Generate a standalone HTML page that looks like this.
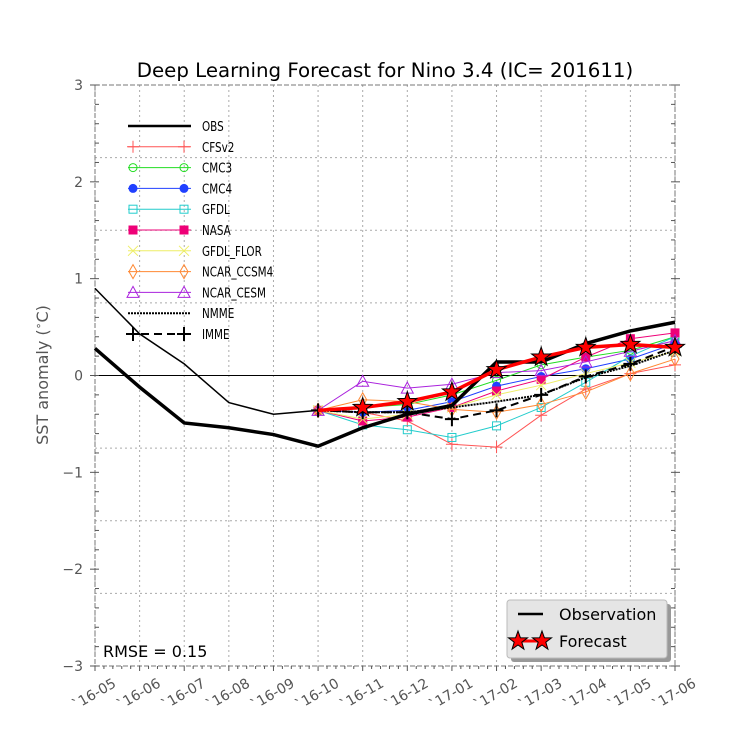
<!DOCTYPE html>
<html><head><meta charset="utf-8"><style>body{margin:0;background:#fff}svg{display:block;font-family:"DejaVu Sans","Liberation Sans",sans-serif}</style></head>
<body>
<svg id="chart" width="750" height="750" viewBox="0 0 750 750" xmlns="http://www.w3.org/2000/svg">
<rect width="750" height="750" fill="#fff"/>
<g id="grid"></g>
<g id="axes"></g>
<g id="series"></g>
<g id="legend"></g>
<text x="385" y="77" font-size="19.8" text-anchor="middle" fill="#000">Deep Learning Forecast for Nino 3.4 (IC= 201611)</text>
<text transform="translate(48,375) rotate(-90)" font-size="16" text-anchor="middle" fill="#555">SST anomaly (<tspan font-size="11" dy="-6">∘</tspan><tspan dy="6">C)</tspan></text>
<text x="103" y="657" font-size="16" fill="#000">RMSE = 0.15</text>
<g>
<rect x="511" y="604" width="160" height="58" rx="3" fill="#999"/>
<rect x="507" y="600" width="160" height="58" rx="3" fill="#e5e5e5" stroke="#bbb"/>
<line x1="518" y1="614" x2="543" y2="614" stroke="#000" stroke-width="2.5"/>
<text x="559" y="620" font-size="16">Observation</text>
<line x1="518" y1="641" x2="542" y2="641" stroke="red" stroke-width="3"/>
<text x="559" y="647" font-size="16">Forecast</text>
</g>
<g id="legstars"></g>
</svg>
<script>
const months=["`16-05","`16-06","`16-07","`16-08","`16-09","`16-10","`16-11","`16-12","`17-01","`17-02","`17-03","`17-04","`17-05","`17-06"];
const yTicks=[3,2,1,0,-1,-2,-3];
const obs=[0.28,-0.12,-0.49,-0.54,-0.61,-0.73,-0.54,-0.40,-0.31,0.14,0.14,0.33,0.46,0.55];
const history=[0.90,0.43,0.12,-0.28,-0.40,-0.36];
const forecast=[null,null,null,null,null,-0.36,-0.33,-0.27,-0.17,0.06,0.19,0.29,0.32,0.29];
const cfsv2=[-0.36,-0.38,-0.47,-0.71,-0.74,-0.41,-0.14,0.02,0.11];
const cmc3=[-0.36,-0.33,-0.30,-0.20,-0.05,0.11,0.19,0.26,0.40];
const cmc4=[-0.36,-0.38,-0.36,-0.27,-0.11,-0.01,0.07,0.17,0.33];
const gfdl=[-0.36,-0.51,-0.56,-0.64,-0.52,-0.33,-0.07,0.20,0.40];
const nasa=[-0.36,-0.47,-0.43,-0.33,-0.16,-0.04,0.19,0.38,0.44];
const flor=[-0.36,-0.45,-0.40,-0.33,-0.20,-0.10,0.02,0.13,0.25];
const ccsm4=[-0.36,-0.25,-0.27,-0.35,-0.38,-0.30,-0.17,0.02,0.17];
const cesm=[-0.36,-0.06,-0.13,-0.09,0.03,0.05,0.14,0.25,0.36];
const nmme=[-0.36,-0.38,-0.38,-0.33,-0.27,-0.20,-0.02,0.10,0.26];
const imme=[-0.36,-0.38,-0.38,-0.45,-0.36,-0.20,-0.01,0.12,0.30];
const L=95,R=675,T=85,B=666,NS="http://www.w3.org/2000/svg";
const X=i=>L+(R-L)*i/(months.length-1);
const Y=v=>T+(3-v)*(B-T)/6;
function mk(p,tag,a){const e=document.createElementNS(NS,tag);for(const k in a)e.setAttribute(k,a[k]);p.appendChild(e);return e;}
const g=document.getElementById('grid'),ax=document.getElementById('axes'),s=document.getElementById('series'),lg=document.getElementById('legend');
months.forEach((m,i)=>{const l=mk(g,'line',{x1:X(i),x2:X(i),y1:T,y2:B,stroke:'#aaa','stroke-dasharray':'2,3'});
});
for(let v=-2.25;v<=2.26;v+=0.75){if(Math.abs(v)<0.01)continue;const l=mk(g,'line',{x1:L,x2:R,y1:Y(v),y2:Y(v),stroke:'#aaa','stroke-dasharray':'2,3'});
}
mk(g,'line',{x1:L,x2:R,y1:Y(0),y2:Y(0),stroke:'#000','stroke-width':1});
mk(ax,'rect',{x:L,y:T,width:R-L,height:B-T,fill:'none',stroke:'#777','stroke-dasharray':'5,2'});
yTicks.forEach(v=>{mk(ax,'line',{x1:L-5,x2:L,y1:Y(v),y2:Y(v),stroke:'#555'});mk(ax,'line',{x1:R,x2:R+5,y1:Y(v),y2:Y(v),stroke:'#555'});
const t=mk(ax,'text',{x:L-12,y:Y(v)+5,'font-size':14,'text-anchor':'end',fill:'#555'});t.textContent=v<0?'\u2212'+(-v):v;
});
for(let v=-3;v<=3.001;v+=0.2){mk(ax,'line',{x1:L,x2:L+4,y1:Y(v),y2:Y(v),stroke:'#555'});mk(ax,'line',{x1:R-4,x2:R,y1:Y(v),y2:Y(v),stroke:'#555'});}
months.forEach((m,i)=>{mk(ax,'line',{x1:X(i),x2:X(i),y1:B,y2:B+5,stroke:'#555'});
if(i<months.length-1)for(let k=1;k<5;k++){const x=X(i)+(X(i+1)-X(i))*k/5;mk(ax,'line',{x1:x,x2:x,y1:B,y2:B+3,stroke:'#555'});}
const t=mk(ax,'text',{transform:`translate(${X(i)+22},${B+20}) rotate(-30)`,'font-size':14,'text-anchor':'end',fill:'#555'});t.textContent=m;
});
function marker(p,type,x,y,c,sz){sz=sz||5;
 if(type==='plus')return mk(p,'path',{d:`M${x-6},${y}H${x+6}M${x},${y-6}V${y+6}`,stroke:c,fill:'none'});
 if(type==='circle')return mk(p,'circle',{cx:x,cy:y,r:sz,fill:'none',stroke:c});
 if(type==='dot')return mk(p,'circle',{cx:x,cy:y,r:sz,fill:c,stroke:c});
 if(type==='square')return mk(p,'rect',{x:x-sz,y:y-sz,width:2*sz,height:2*sz,fill:'none',stroke:c});
 if(type==='fsquare')return mk(p,'rect',{x:x-sz,y:y-sz,width:2*sz,height:2*sz,fill:c,stroke:c});
 if(type==='x')return mk(p,'path',{d:`M${x-5},${y-5}L${x+5},${y+5}M${x-5},${y+5}L${x+5},${y-5}`,stroke:c});
 if(type==='diamond')return mk(p,'path',{d:`M${x},${y-7}L${x+4},${y}L${x},${y+7}L${x-4},${y}Z`,fill:'none',stroke:c});
 if(type==='tri')return mk(p,'path',{d:`M${x},${y-6}L${x+6},${y+5}L${x-6},${y+5}Z`,fill:'none',stroke:c});
 if(type==='bplus')return mk(p,'path',{d:`M${x-7},${y}H${x+7}M${x},${y-7}V${y+7}`,stroke:c,'stroke-width':2});
 if(type==='star'){let d='';for(let k=0;k<10;k++){const r=k%2?4:10,a=-Math.PI/2+k*Math.PI/5;d+=(k?'L':'M')+(x+r*Math.cos(a)).toFixed(1)+','+(y+r*Math.sin(a)).toFixed(1);}
  return mk(p,'path',{d:d+'Z',fill:'red',stroke:'#000','stroke-width':1});}
}
const models=[
 ['cfsv2',cfsv2,'#f55','plus',1,null],['cmc3',cmc3,'#2d2','circle',1,null],['cmc4',cmc4,'#2040ff','dot',1,null],
 ['gfdl',gfdl,'#2cc','square',1,null],['nasa',nasa,'#e07','fsquare',1,null],['gfdl-flor',flor,'#ee6','x',1,null],
 ['ncar-ccsm4',ccsm4,'#f83','diamond',1,null],['ncar-cesm',cesm,'#a2d','tri',1,null],
 ['nmme',nmme,'#000',null,2,'2,1'],['imme',imme,'#000','bplus',2,'8,5']];
const start=5;
models.forEach(([n,d,c,mt,w,da])=>{const grp=mk(s,'g',{});
 const pts=d.map((v,i)=>X(start+i)+','+Y(v)).join(' ');const a={points:pts,fill:'none',stroke:c,'stroke-width':w};if(da)a['stroke-dasharray']=da;mk(grp,'polyline',a);
 if(mt)d.forEach((v,i)=>marker(grp,mt,X(start+i),Y(v),c,4));});
const hg=mk(s,'polyline',{points:history.map((v,i)=>X(i)+','+Y(v)).join(' '),fill:'none',stroke:'#000','stroke-width':1.5});

const og=mk(s,'polyline',{points:obs.map((v,i)=>X(i)+','+Y(v)).join(' '),fill:'none',stroke:'#000','stroke-width':3.5});

const fg=mk(s,'g',{});
const fp=[];forecast.forEach((v,i)=>{if(v!==null)fp.push(X(i)+','+Y(v));});
mk(fg,'polyline',{points:fp.join(' '),fill:'none',stroke:'red','stroke-width':3.5});
forecast.forEach((v,i)=>{if(v!==null&&i>start)marker(fg,'star',X(i),Y(v));});
const names=['OBS','CFSv2','CMC3','CMC4','GFDL','NASA','GFDL_FLOR','NCAR_CCSM4','NCAR_CESM','NMME','IMME'];
names.forEach((nm,k)=>{const y=126+k*20.8;const e=mk(lg,'g',{});
 if(k===0)mk(e,'line',{x1:128,x2:191,y1:y,y2:y,stroke:'#000','stroke-width':2.5});
 else{const [n,d,c,mt,w,da]=models[k-1];const a={x1:128,x2:191,y1:y,y2:y,stroke:c,'stroke-width':w};if(da)a['stroke-dasharray']=da;mk(e,'line',a);
  if(mt){marker(e,mt,133,y,c,4);marker(e,mt,184,y,c,4);}}
 const t=mk(e,'text',{x:202,y:y+5,'font-size':13,fill:'#000',transform:`translate(${202*0.2},0) scale(0.8,1)`});t.textContent=nm;});
const ls=document.getElementById('legstars');marker(ls,'star',518,641);marker(ls,'star',542,641);
</script>
</body></html>
